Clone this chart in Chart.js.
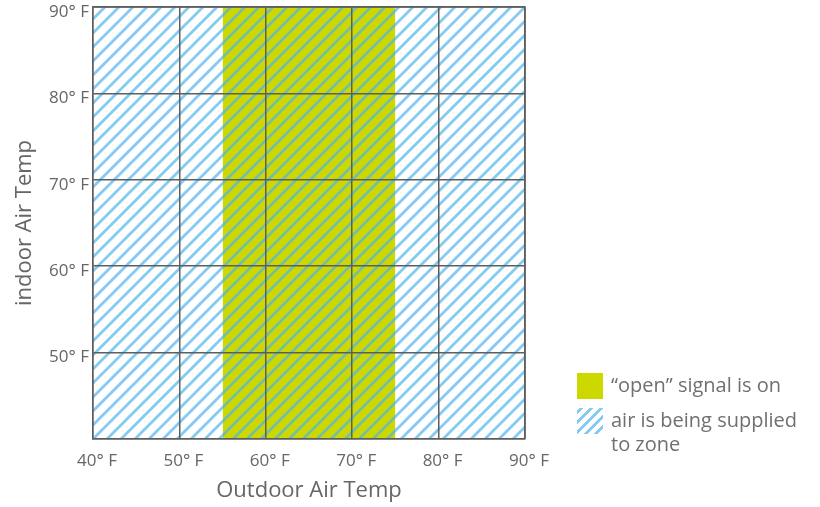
<!DOCTYPE html>
<html>
<head>
<meta charset="utf-8">
<script src="https://cdn.jsdelivr.net/npm/chart.js@4"></script>
<style>
  html, body { margin: 0; padding: 0; background: #fff; }
  #wrap { position: relative; width: 820px; height: 507px; }
  .legend { position: absolute; font-family: "Open Sans", sans-serif; font-size: 20px; color: #707070; line-height: 24px; white-space: nowrap; }
  .swatch { position: absolute; width: 26px; height: 26px; }
</style>
</head>
<body>
<div id="wrap">
  <canvas id="chart" width="820" height="507"></canvas>
  <div class="swatch" style="left:577px;top:373px;background:#cdd800;"></div>
  <div class="legend" style="left:611px;top:373px;">“open” signal is on</div>
  <div class="swatch" style="left:577px;top:408px;background:repeating-linear-gradient(-45deg, transparent 0 4px, rgba(80,180,235,0.7) 4px 7px);"></div>
  <div class="legend" style="left:611px;top:408px;">air is being supplied<br>to zone</div>
</div>
<script>
// outdoor / indoor temperature ranges, degrees F
const xTicks = [40, 50, 60, 70, 80, 90];
const xTickLabels = ['40° F', '50° F', '60° F', '70° F', '80° F', '90° F'];
const yTicks = [40, 50, 60, 70, 80, 90];
const yTickLabels = ['', '50° F', '60° F', '70° F', '80° F', '90° F'];

const openSignalRange = [55, 75];   // outdoor temps where "open" signal is on
const airSupplyRange = [40, 90];    // outdoor temps where air is supplied
const indoorTop = 90;

const labelColor = '#666';
const gridColor = '#5e5e5e';

// diagonal hatch pattern
function makeHatch() {
  const size = 14;
  const c = document.createElement('canvas');
  c.width = size; c.height = size;
  const g = c.getContext('2d');
  g.strokeStyle = 'rgba(80,180,235,0.7)';
  g.lineWidth = 2.8;
  g.beginPath();
  g.moveTo(-size, size * 2); g.lineTo(size * 2, -size);
  g.moveTo(-size, size); g.lineTo(size, -size);
  g.moveTo(0, size * 2); g.lineTo(size * 2, 0);
  g.stroke();
  return g.createPattern(c, 'repeat');
}

const ctx = document.getElementById('chart').getContext('2d');

new Chart(ctx, {
  type: 'line',
  data: {
    datasets: [
      {
        label: 'air is being supplied to zone',
        data: airSupplyRange.map(x => ({ x: x, y: indoorTop })),
        backgroundColor: makeHatch(),
        fill: 'start',
        borderWidth: 0,
        pointRadius: 0,
        order: 1
      },
      {
        label: '"open" signal is on',
        data: openSignalRange.map(x => ({ x: x, y: indoorTop })),
        backgroundColor: '#cdd800',
        fill: 'start',
        borderWidth: 0,
        pointRadius: 0,
        order: 2
      }
    ]
  },
  options: {
    responsive: false,
    animation: false,
    layout: { padding: { left: 0, right: 295, top: 7, bottom: 0 } },
    plugins: { legend: { display: false }, tooltip: { enabled: false } },
    scales: {
      x: {
        type: 'linear',
        min: 40,
        max: 90,
        afterBuildTicks: s => { s.ticks = xTicks.map(v => ({ value: v })); },
        afterFit: s => { s.height = 68; s.paddingLeft = 0; s.paddingRight = 0; },
        grid: { color: gridColor, lineWidth: 1.5, drawTicks: false, z: 1 },
        border: { display: true, color: gridColor, width: 1.5, z: 1 },
        ticks: {
          padding: 12,
          labelOffset: 4,
          color: labelColor,
          font: { family: 'Open Sans', size: 17 },
          callback: (v, i) => xTickLabels[i]
        },
        title: {
          display: true,
          text: 'Outdoor Air Temp',
          color: labelColor,
          font: { family: 'Open Sans', size: 22 },
          padding: { top: 0, bottom: 3 }
        }
      },
      y: {
        type: 'linear',
        min: 40,
        max: 90,
        afterBuildTicks: s => { s.ticks = yTicks.map(v => ({ value: v })); },
        afterFit: s => { s.width = 93; s.paddingTop = 0; s.paddingBottom = 0; },
        grid: { color: gridColor, lineWidth: 1.5, drawTicks: false, z: 1 },
        border: { display: true, color: gridColor, width: 1.5, z: 1 },
        ticks: {
          padding: 4,
          labelOffset: 5,
          color: labelColor,
          font: { family: 'Open Sans', size: 17 },
          callback: (v, i) => yTickLabels[i]
        },
        title: {
          display: true,
          text: 'indoor Air Temp',
          color: labelColor,
          font: { family: 'Open Sans', size: 22 },
          padding: { top: 12, bottom: 0 }
        }
      }
    }
  },
  plugins: [{
    id: 'frame',
    afterDraw(chart) {
      // right and top edges of the plot frame
      const a = chart.chartArea;
      const c = chart.ctx;
      c.save();
      c.strokeStyle = gridColor;
      c.lineWidth = 1.5;
      c.beginPath();
      c.moveTo(a.left, a.top); c.lineTo(a.right, a.top); c.lineTo(a.right, a.bottom);
      c.stroke();
      c.restore();
    }
  }]
});
</script>
</body>
</html>
